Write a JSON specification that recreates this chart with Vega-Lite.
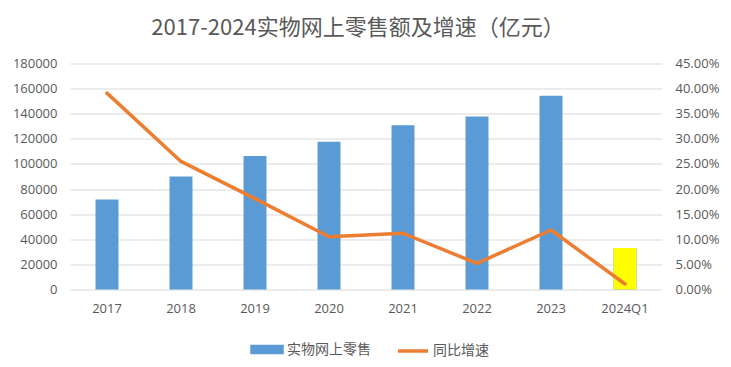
{
  "$schema": "https://vega.github.io/schema/vega-lite/v6.json",
  "width": 592,
  "height": 226,
  "autosize": {"type": "none"},
  "padding": {"left": 70, "top": 63.5, "right": 69, "bottom": 77.5},
  "background": "white",
  "title": {
    "text": "2017-2024实物网上零售额及增速（亿元）",
    "font": "Noto Sans CJK SC",
    "fontSize": 22,
    "fontWeight": "normal",
    "color": "#595959",
    "offset": 18,
    "anchor": "middle",
    "dx": -8
  },
  "data": {
    "values": [
      {"year": "2017", "sales": 71751, "growth": 0.391},
      {"year": "2018", "sales": 90065, "growth": 0.255},
      {"year": "2019", "sales": 106324, "growth": 0.181},
      {"year": "2020", "sales": 117601, "growth": 0.105},
      {"year": "2021", "sales": 130884, "growth": 0.112},
      {"year": "2022", "sales": 137853, "growth": 0.052},
      {"year": "2023", "sales": 154264, "growth": 0.1185},
      {"year": "2024Q1", "sales": 33076, "growth": 0.011}
    ]
  },
  "encoding": {
    "x": {
      "field": "year",
      "type": "ordinal",
      "sort": null,
      "scale": {"paddingInner": 0, "paddingOuter": 0},
      "axis": {
        "title": null,
        "labelAngle": 0,
        "ticks": false,
        "domain": false,
        "labelPadding": 13,
        "labelFont": "Open Sans",
        "labelFontSize": 13,
        "labelColor": "#595959"
      }
    }
  },
  "layer": [
    {
      "encoding": {
        "y": {
          "field": "sales",
          "type": "quantitative",
          "scale": {"domain": [0, 180000], "nice": false},
          "axis": {
            "title": null,
            "values": [0, 20000, 40000, 60000, 80000, 100000, 120000, 140000, 160000, 180000],
            "format": "d",
            "grid": true,
            "gridColor": "#D9D9D9",
            "gridWidth": 1,
            "ticks": false,
            "domain": false,
            "labelOverlap": false,
            "labelPadding": 13,
            "labelFont": "Open Sans",
            "labelFontSize": 13,
            "labelColor": "#595959"
          }
        }
      },
      "layer": [
        {
          "mark": {"type": "bar", "width": {"band": 0.31}},
          "encoding": {
            "color": {
              "datum": "实物网上零售",
              "scale": {"domain": ["实物网上零售", "同比增速"], "range": ["#5B9BD5", "#ED7D31"]},
              "legend": {
                "title": null,
                "orient": "none",
                "legendX": 180,
                "legendY": 269,
                "direction": "horizontal",
                "labelFont": "Noto Sans CJK SC",
                "labelFontSize": 14,
                "labelColor": "#595959",
                "symbolSize": 900,
                "columnPadding": 20,
                "labelOffset": 3,
                "encode": {
                  "symbols": {
                    "update": {
                      "shape": {"signal": "datum.value === '同比增速' ? 'M-1,0H1' : 'M-1,-0.2H1V0.2H-1Z'"},
                      "fill": {"signal": "datum.value === '同比增速' ? 'transparent' : '#5B9BD5'"},
                      "stroke": {"signal": "datum.value === '同比增速' ? '#ED7D31' : 'transparent'"},
                      "strokeWidth": {"value": 3.5},
                      "opacity": {"value": 1}
                    }
                  }
                }
              }
            }
          }
        },
        {
          "transform": [{"filter": "datum.year === '2024Q1'"}],
          "mark": {"type": "bar", "width": {"band": 0.31}, "color": "#FFFF00"}
        }
      ]
    },
    {
      "mark": {"type": "line", "strokeWidth": 3.5, "strokeCap": "round", "strokeJoin": "round"},
      "encoding": {
        "y": {
          "field": "growth",
          "type": "quantitative",
          "scale": {"domain": [0, 0.45], "nice": false},
          "axis": {
            "orient": "right",
            "title": null,
            "values": [0, 0.05, 0.1, 0.15, 0.2, 0.25, 0.3, 0.35, 0.4, 0.45],
            "format": ".2%",
            "grid": false,
            "ticks": false,
            "domain": false,
            "labelOverlap": false,
            "labelPadding": 13,
            "labelFont": "Open Sans",
            "labelFontSize": 13,
            "labelColor": "#595959"
          }
        },
        "color": {"datum": "同比增速"}
      }
    }
  ],
  "resolve": {"scale": {"y": "independent"}},
  "config": {
    "view": {"stroke": null}
  }
}
